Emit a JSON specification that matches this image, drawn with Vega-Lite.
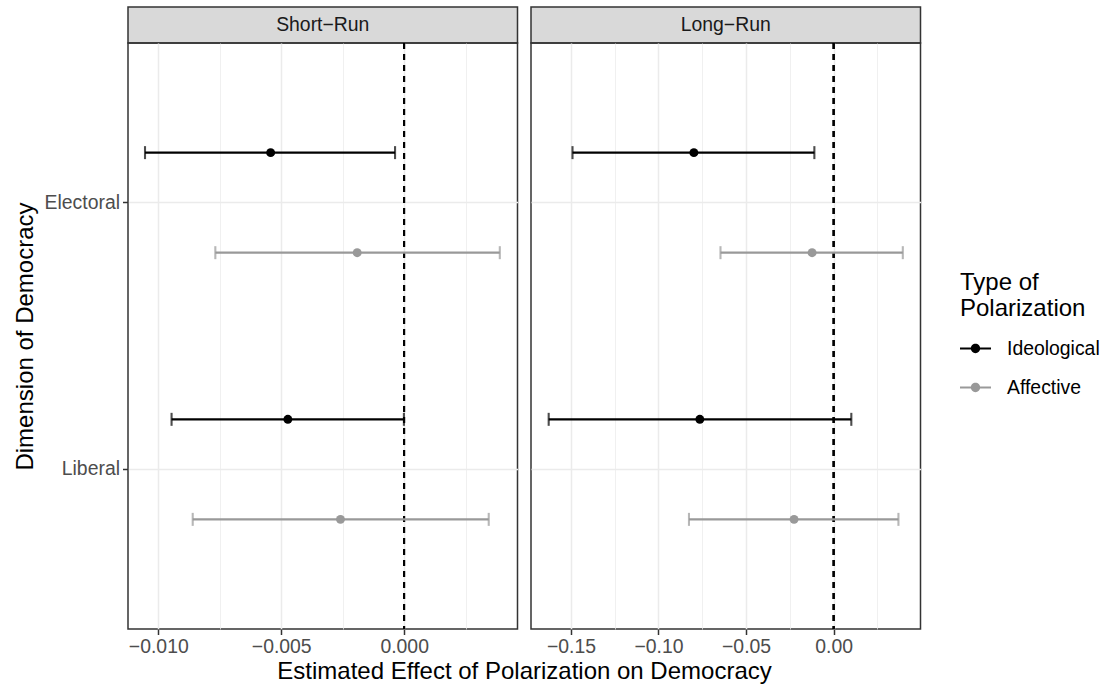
{
  "$schema": "https://vega.github.io/schema/vega-lite/v6.json",
  "padding": {"left": 12, "top": 6, "right": 0, "bottom": 0},
  "datasets": {
    "est": [
      {"run": "Short", "dim": "Electoral", "type": "Ideological", "est": -0.00543, "lo": -0.01054, "hi": -0.00037},
      {"run": "Short", "dim": "Electoral", "type": "Affective", "est": -0.00191, "lo": -0.00768, "hi": 0.00389},
      {"run": "Short", "dim": "Liberal", "type": "Ideological", "est": -0.00473, "lo": -0.00946, "hi": -0.00001},
      {"run": "Short", "dim": "Liberal", "type": "Affective", "est": -0.00259, "lo": -0.0086, "hi": 0.00344},
      {"run": "Long", "dim": "Electoral", "type": "Ideological", "est": -0.0798, "lo": -0.1491, "hi": -0.011},
      {"run": "Long", "dim": "Electoral", "type": "Affective", "est": -0.0123, "lo": -0.0646, "hi": 0.0395},
      {"run": "Long", "dim": "Liberal", "type": "Ideological", "est": -0.0764, "lo": -0.1627, "hi": 0.0101},
      {"run": "Long", "dim": "Liberal", "type": "Affective", "est": -0.0226, "lo": -0.0826, "hi": 0.037}
    ],
    "stripShort": [{"panel": "Short\u2212Run"}],
    "stripLong": [{"panel": "Long\u2212Run"}]
  },
  "columns": 2,
  "spacing": {"row": 0, "column": 13},
  "bounds": "flush",
  "resolve": {"scale": {"x": "independent"}},
  "concat": [
    {
      "data": {"name": "stripShort"},
      "width": 389.5,
      "height": 36,
      "view": {"fill": "#d9d9d9", "stroke": "#333333", "strokeWidth": 1.5},
      "mark": {"type": "text", "fontSize": 19.4, "color": "#1a1a1a", "baseline": "middle", "align": "center"},
      "encoding": {"text": {"field": "panel", "type": "nominal"}}
    },
    {
      "data": {"name": "stripLong"},
      "width": 389.5,
      "height": 36,
      "view": {"fill": "#d9d9d9", "stroke": "#333333", "strokeWidth": 1.5},
      "mark": {"type": "text", "fontSize": 19.4, "color": "#1a1a1a", "baseline": "middle", "align": "center"},
      "encoding": {"text": {"field": "panel", "type": "nominal"}}
    },
    {
      "data": {"name": "est"},
      "transform": [{"filter": "datum.run == 'Short'"}],
      "width": 389.5,
      "height": 586,
      "resolve": {"axis": {"x": "independent"}},
      "layer": [
        {
          "mark": {"type": "rule", "strokeDash": [6, 5], "strokeWidth": 1.8, "color": "black"},
          "encoding": {
            "x": {"datum": 0, "type": "quantitative",
              "scale": {"domain": [-0.011232, 0.00461], "nice": false, "zero": false},
              "axis": {"orient": "top", "values": [-0.0075, -0.0025, 0.0025], "labels": false, "ticks": false, "domain": false, "grid": true, "gridColor": "#ebebeb", "gridWidth": 0.75, "title": null}}
          }
        },
        {
          "encoding": {
            "y": {"field": "dim", "type": "nominal",
              "scale": {"type": "band", "domain": ["Electoral", "Liberal"], "paddingInner": 0, "paddingOuter": 0.0986},
              "axis": {"grid": true, "gridColor": "#ebebeb", "gridWidth": 1.5, "bandPosition": 0.5, "domain": false, "ticks": true, "tickColor": "#333333", "tickWidth": 1.5, "tickSize": 5.5, "labelFontSize": 19.4, "labelColor": "#4d4d4d", "labelPadding": 3, "title": "Dimension of Democracy", "titleFontSize": 24, "titleFontWeight": "normal", "titleColor": "black", "titlePadding": 7}},
            "yOffset": {"field": "type", "type": "nominal",
              "scale": {"type": "band", "domain": ["Ideological", "Affective"], "paddingInner": 0, "paddingOuter": 0.333}}
          },
          "layer": [
            {
              "mark": {"type": "rule", "strokeWidth": 2.1},
              "encoding": {
                "x": {"field": "lo", "type": "quantitative",
                  "scale": {"domain": [-0.011232, 0.00461], "nice": false, "zero": false},
                  "axis": {"orient": "bottom", "values": [-0.01, -0.005, 0], "format": ".3f", "labelExpr": "replace(datum.label, '-', '\u2212')", "grid": true, "gridColor": "#ebebeb", "gridWidth": 1.5, "domain": false, "tickColor": "#333333", "tickWidth": 1.5, "tickSize": 5.5, "labelFontSize": 19.4, "labelColor": "#4d4d4d", "labelPadding": 3, "labelFlush": false, "labelOverlap": false, "title": "Estimated Effect of Polarization on Democracy", "titleFontSize": 24, "titleFontWeight": "normal", "titleColor": "black", "titleX": 396, "titleY": 49, "titleBaseline": "alphabetic", "titleAlign": "center"}},
                "x2": {"field": "hi"},
                "stroke": {"field": "type", "type": "nominal", "scale": {"domain": ["Affective", "Ideological"], "range": ["#999999", "#000000"]}, "legend": null}
              }
            },
            {
              "mark": {"type": "tick", "thickness": 2.1, "size": 13, "orient": "vertical"},
              "encoding": {
                "x": {"field": "lo", "type": "quantitative", "scale": {"domain": [-0.011232, 0.00461], "nice": false, "zero": false}},
                "fill": {"field": "type", "type": "nominal", "scale": {"domain": ["Affective", "Ideological"], "range": ["#999999", "#000000"]}, "legend": null}
              }
            },
            {
              "mark": {"type": "tick", "thickness": 2.1, "size": 13, "orient": "vertical"},
              "encoding": {
                "x": {"field": "hi", "type": "quantitative", "scale": {"domain": [-0.011232, 0.00461], "nice": false, "zero": false}},
                "fill": {"field": "type", "type": "nominal", "scale": {"domain": ["Affective", "Ideological"], "range": ["#999999", "#000000"]}, "legend": null}
              }
            },
            {
              "mark": {"type": "point", "filled": true, "size": 80, "opacity": 1},
              "encoding": {
                "x": {"field": "est", "type": "quantitative", "scale": {"domain": [-0.011232, 0.00461], "nice": false, "zero": false}},
                "color": {"field": "type", "type": "nominal", "scale": {"domain": ["Ideological", "Affective"], "range": ["#000000", "#999999"]},
                  "legend": {"title": ["Type of", "Polarization"], "orient": "none", "legendX": 832, "legendY": 264, "titleFontSize": 24, "titleFontWeight": "normal", "titleColor": "black", "titleLineHeight": 26, "labelFontSize": 19.4, "labelColor": "black", "symbolType": "M-1,-0.065L1,-0.065L1,0.065L-1,0.065Z M-0.3,0 A0.3,0.3 0 1,1 0.3,0 A0.3,0.3 0 1,1 -0.3,0Z", "symbolSize": 961, "symbolStrokeWidth": 0, "labelOffset": 16, "rowPadding": 14, "titlePadding": 12}}
              }
            }
          ]
        }
      ]
    },
    {
      "data": {"name": "est"},
      "transform": [{"filter": "datum.run == 'Long'"}],
      "width": 389.5,
      "height": 586,
      "resolve": {"axis": {"x": "independent"}},
      "layer": [
        {
          "mark": {"type": "rule", "strokeDash": [6, 5], "strokeWidth": 1.8, "color": "black"},
          "encoding": {
            "x": {"datum": 0, "type": "quantitative",
              "scale": {"domain": [-0.1728, 0.0496], "nice": false, "zero": false},
              "axis": {"orient": "top", "values": [-0.125, -0.075, -0.025, 0.025], "labels": false, "ticks": false, "domain": false, "grid": true, "gridColor": "#ebebeb", "gridWidth": 0.75, "title": null}}
          }
        },
        {
          "encoding": {
            "y": {"field": "dim", "type": "nominal",
              "scale": {"type": "band", "domain": ["Electoral", "Liberal"], "paddingInner": 0, "paddingOuter": 0.0986},
              "axis": {"grid": true, "gridColor": "#ebebeb", "gridWidth": 1.5, "bandPosition": 0.5, "domain": false, "ticks": false, "labels": false, "title": null}},
            "yOffset": {"field": "type", "type": "nominal",
              "scale": {"type": "band", "domain": ["Ideological", "Affective"], "paddingInner": 0, "paddingOuter": 0.333}}
          },
          "layer": [
            {
              "mark": {"type": "rule", "strokeWidth": 2.1},
              "encoding": {
                "x": {"field": "lo", "type": "quantitative",
                  "scale": {"domain": [-0.1728, 0.0496], "nice": false, "zero": false},
                  "axis": {"orient": "bottom", "values": [-0.15, -0.1, -0.05, 0], "format": ".2f", "labelExpr": "replace(datum.label, '-', '\u2212')", "grid": true, "gridColor": "#ebebeb", "gridWidth": 1.5, "domain": false, "tickColor": "#333333", "tickWidth": 1.5, "tickSize": 5.5, "labelFontSize": 19.4, "labelColor": "#4d4d4d", "labelPadding": 3, "labelFlush": false, "labelOverlap": false, "title": null}},
                "x2": {"field": "hi"},
                "stroke": {"field": "type", "type": "nominal", "scale": {"domain": ["Affective", "Ideological"], "range": ["#999999", "#000000"]}, "legend": null}
              }
            },
            {
              "mark": {"type": "tick", "thickness": 2.1, "size": 13, "orient": "vertical"},
              "encoding": {
                "x": {"field": "lo", "type": "quantitative", "scale": {"domain": [-0.1728, 0.0496], "nice": false, "zero": false}},
                "fill": {"field": "type", "type": "nominal", "scale": {"domain": ["Affective", "Ideological"], "range": ["#999999", "#000000"]}, "legend": null}
              }
            },
            {
              "mark": {"type": "tick", "thickness": 2.1, "size": 13, "orient": "vertical"},
              "encoding": {
                "x": {"field": "hi", "type": "quantitative", "scale": {"domain": [-0.1728, 0.0496], "nice": false, "zero": false}},
                "fill": {"field": "type", "type": "nominal", "scale": {"domain": ["Affective", "Ideological"], "range": ["#999999", "#000000"]}, "legend": null}
              }
            },
            {
              "mark": {"type": "point", "filled": true, "size": 80, "opacity": 1},
              "encoding": {
                "x": {"field": "est", "type": "quantitative", "scale": {"domain": [-0.1728, 0.0496], "nice": false, "zero": false}},
                "color": {"field": "type", "type": "nominal", "scale": {"domain": ["Ideological", "Affective"], "range": ["#000000", "#999999"]},
                  "legend": {"title": ["Type of", "Polarization"], "orient": "none", "legendX": 832, "legendY": 264, "titleFontSize": 24, "titleFontWeight": "normal", "titleColor": "black", "titleLineHeight": 26, "labelFontSize": 19.4, "labelColor": "black", "symbolType": "M-1,-0.065L1,-0.065L1,0.065L-1,0.065Z M-0.3,0 A0.3,0.3 0 1,1 0.3,0 A0.3,0.3 0 1,1 -0.3,0Z", "symbolSize": 961, "symbolStrokeWidth": 0, "labelOffset": 16, "rowPadding": 14, "titlePadding": 12}}
              }
            }
          ]
        }
      ]
    }
  ],
  "config": {
    "font": "Liberation Sans",
    "view": {"stroke": "#333333", "strokeWidth": 1.5},
    "background": "white"
  }
}
